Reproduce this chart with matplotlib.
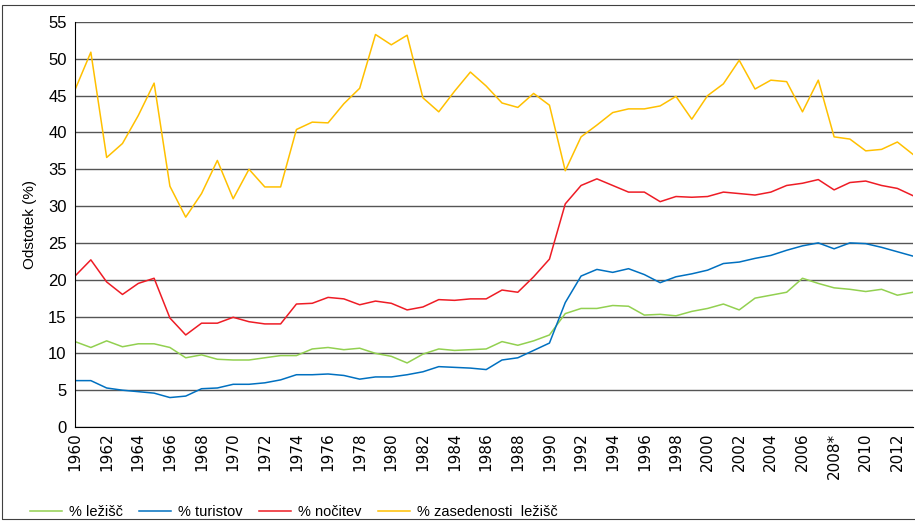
import matplotlib.pyplot as plt
from matplotlib.patches import Rectangle

plt.rcParams["font.family"] = ["Liberation Sans Narrow", "Liberation Sans", "DejaVu Sans"]

years = list(range(1960, 2014))

lezisca = [11.6, 10.8, 11.7, 10.9, 11.3, 11.3, 10.8, 9.4, 9.8, 9.2,
           9.1, 9.1, 9.4, 9.7, 9.7, 10.6, 10.8, 10.5, 10.7, 10.0,
           9.6, 8.7, 9.9, 10.6, 10.4, 10.5, 10.6, 11.6, 11.1, 11.7,
           12.5, 15.4, 16.1, 16.1, 16.5, 16.4, 15.2, 15.3, 15.1, 15.7,
           16.1, 16.7, 15.9, 17.5, 17.9, 18.3, 20.2, 19.5, 18.9, 18.7,
           18.4, 18.7, 17.9, 18.3]

turisti = [6.3, 6.3, 5.3, 5.0, 4.8, 4.6, 4.0, 4.2, 5.2, 5.3,
           5.8, 5.8, 6.0, 6.4, 7.1, 7.1, 7.2, 7.0, 6.5, 6.8,
           6.8, 7.1, 7.5, 8.2, 8.1, 8.0, 7.8, 9.1, 9.4, 10.4,
           11.4, 16.9, 20.5, 21.4, 21.0, 21.5, 20.7, 19.6, 20.4, 20.8,
           21.3, 22.2, 22.4, 22.9, 23.3, 24.0, 24.6, 25.0, 24.2, 25.0,
           24.9, 24.4, 23.8, 23.2]

nocitve = [20.5, 22.7, 19.7, 18.0, 19.5, 20.2, 14.8, 12.5, 14.1, 14.1,
           14.9, 14.3, 14.0, 14.0, 16.7, 16.8, 17.6, 17.4, 16.6, 17.1,
           16.8, 15.9, 16.3, 17.3, 17.2, 17.4, 17.4, 18.6, 18.3, 20.4,
           22.8, 30.3, 32.8, 33.7, 32.8, 31.9, 31.9, 30.6, 31.3, 31.2,
           31.3, 31.9, 31.7, 31.5, 31.9, 32.8, 33.1, 33.6, 32.2, 33.2,
           33.4, 32.8, 32.4, 31.4]

zasedenost = [45.8, 50.9, 36.6, 38.5, 42.3, 46.7, 32.7, 28.5, 31.7, 36.2,
              31.0, 35.0, 32.6, 32.6, 40.4, 41.4, 41.3, 43.9, 46.0, 53.3,
              51.9, 53.2, 44.7, 42.8, 45.6, 48.2, 46.3, 44.0, 43.4, 45.3,
              43.7, 34.8, 39.4, 41.0, 42.7, 43.2, 43.2, 43.6, 44.9, 41.8,
              45.0, 46.6, 49.8, 45.9, 47.1, 46.9, 42.8, 47.1, 39.4, 39.1,
              37.5, 37.7, 38.7, 37.0]

tick_years = list(range(1960, 2013, 2))
tick_labels = [str(y) if y != 2008 else "2008*" for y in tick_years]

fig = plt.figure(figsize=(9.15, 5.21), dpi=100)
ax = fig.add_axes([0.082, 0.1804, 0.916, 0.7774])

ax.plot(years, lezisca, color="#92D050", lw=1.1, label="% ležišč")
ax.plot(years, turisti, color="#0070C0", lw=1.1, label="% turistov")
ax.plot(years, nocitve, color="#EE1C25", lw=1.1, label="% nočitev")
ax.plot(years, zasedenost, color="#FFC000", lw=1.1, label="% zasedenosti  ležišč")

ax.set_xlim(1960, 2013)
ax.set_ylim(0, 55)
ax.set_yticks(range(0, 56, 5))
ax.set_xticks(tick_years)
ax.set_xticklabels(tick_labels, rotation=90, fontsize=11, family="DejaVu Sans")
ax.tick_params(axis="y", labelsize=12, length=0, pad=6)
ax.tick_params(axis="x", length=0, pad=4)
ax.yaxis.grid(True, color="#555555", lw=1.0)
ax.set_axisbelow(True)
for side in ["top", "right"]:
    ax.spines[side].set_visible(False)
ax.spines["left"].set_color("black")
ax.spines["bottom"].set_color("black")
ax.set_ylabel("Odstotek (%)", fontsize=11, labelpad=8)

fig.legend(loc="lower left", bbox_to_anchor=(0.018, -0.022), ncol=4, frameon=False,
           fontsize=10.5, handlelength=2.2, columnspacing=1.1, handletextpad=0.5)

# thin frame round the whole picture
fig.patches.append(Rectangle((0.002, 0.003), 1.2, 0.988, transform=fig.transFigure,
                             fill=False, edgecolor="#404040", lw=0.8))

fig.savefig("out.png", dpi=100)
